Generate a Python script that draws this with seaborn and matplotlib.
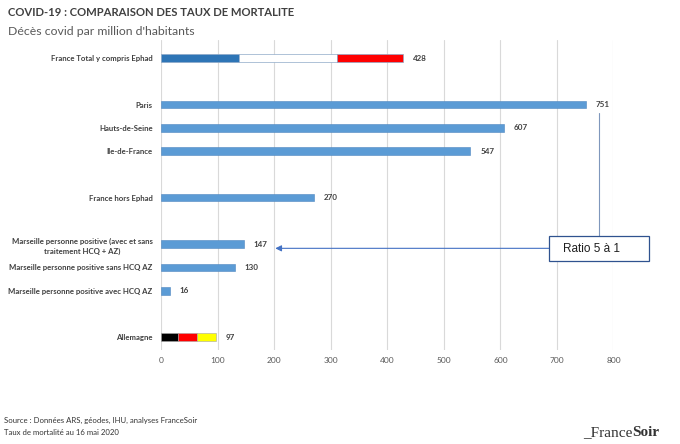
import matplotlib
matplotlib.use("Agg")
import matplotlib.pyplot as plt
from matplotlib.patches import Rectangle
import seaborn as sns
import pandas as pd

# rows, top to bottom (blank rows are spacing in the original chart)
row_labels = [
    "France Total y compris Ephad", "", "Paris", "Hauts-de-Seine", "Ile-de-France", "",
    "France hors Ephad", "", "Marseille personne positive (avec et sans\ntraitement HCQ + AZ)",
    "Marseille personne positive sans HCQ AZ", "Marseille personne positive avec HCQ AZ", "",
    "Allemagne",
]
row_pos = list(range(len(row_labels)))

# plain blue bars
blue_names = ["Paris", "Hauts-de-Seine", "Ile-de-France", "France hors Ephad",
              "Marseille personne positive (avec et sans\ntraitement HCQ + AZ)",
              "Marseille personne positive sans HCQ AZ",
              "Marseille personne positive avec HCQ AZ"]
blue_values = [751, 607, 547, 270, 147, 130, 16]

# flag-coloured bars, segments as cumulative ends
france_total = 428
france_segments = [137, 311, 428]
france_colors = ["#2E75B6", "#FFFFFF", "#FF0000"]
germany_total = 97
germany_segments = [30, 64, 97]
germany_colors = ["#000000", "#FF0000", "#FFFF00"]

x_ticks = [0, 100, 200, 300, 400, 500, 600, 700, 800]

txt = "#404040"
bar_h = 0.33

sns.set_style("white")
plt.rcParams["font.family"] = ["Lato", "DejaVu Sans"]

fig = plt.figure(figsize=(6.8, 4.44), dpi=100)
ax = fig.add_axes([0.2368, 0.2117, 0.6654, 0.698])

df = pd.DataFrame({
    "pos": [row_pos[row_labels.index(n)] for n in blue_names],
    "value": blue_values,
})
sns.barplot(data=df, x="value", y="pos", orient="h", native_scale=True,
            color="#5B9BD5", saturation=1, width=bar_h, ax=ax,
            edgecolor="#5087C0", linewidth=0.4)

# stacked flag bars
prev = 0
for end, c in zip(france_segments, france_colors):
    ax.barh(row_pos[0], end - prev, left=prev, height=bar_h, color=c,
            edgecolor="#8EA9C8", linewidth=0.5, zorder=3)
    prev = end
prev = 0
for end, c in zip(germany_segments, germany_colors):
    ax.barh(row_pos[12], end - prev, left=prev, height=bar_h, color=c,
            edgecolor="#A5A5A5", linewidth=0.4, zorder=3)
    prev = end

# value labels
labels_vals = [(row_pos[0], france_total)] + list(zip(df["pos"], df["value"])) + \
    [(row_pos[12], germany_total)]
for p, v in labels_vals:
    ax.annotate(str(v), (v, p), xytext=(7, 0), textcoords="offset points",
                va="center", ha="left", fontsize=5.8, fontweight="bold", color=txt)

ax.set_xlim(0, 800)
ax.set_ylim(12.55, -0.77)
ax.set_xticks(x_ticks)
ax.set_xticklabels([str(t) for t in x_ticks], fontsize=6, color="#595959")
ax.set_yticks(row_pos)
ax.set_yticklabels(row_labels, fontsize=5.6, fontweight="bold", color=txt)
for t in ax.get_yticklabels():
    t.set_multialignment("center")
    t.set_linespacing(1.55)
ax.tick_params(axis="y", length=0, pad=6)
ax.tick_params(axis="x", length=0, pad=5)
ax.set_xlabel("")
ax.set_ylabel("")
for s in ax.spines.values():
    s.set_visible(False)
ax.xaxis.grid(True, color="#D9D9D9", linewidth=0.8)
ax.set_axisbelow(True)

# "Ratio 5 a 1" callout
ax.annotate("", xy=(202, 8.18), xytext=(686, 8.18),
            arrowprops=dict(arrowstyle="-|>", color="#4472C4", lw=0.8,
                            mutation_scale=9, shrinkA=0, shrinkB=0))
ax.plot([775, 775], [2.36, 7.64], color="#7F97BC", lw=0.8, zorder=4)
ax.add_patch(Rectangle((686, 7.64), 177, 1.07, fc="white", ec="#2F528F", lw=0.9,
                       clip_on=False, zorder=5))
ax.text(710, 8.22, "Ratio 5 à 1", fontsize=8.5, color="#1F1F1F", va="center", ha="left",
        family=["Liberation Sans", "DejaVu Sans"], zorder=6)

# titles
fig.text(0.012, 0.985, "COVID-19 : COMPARAISON DES TAUX DE MORTALITE", fontsize=8.1,
         fontweight="bold", color=txt, va="top")
fig.text(0.012, 0.942, "Décès covid par million d'habitants", fontsize=8.8,
         color="#595959", va="top")

# footer
fig.text(0.006, 0.053, "Source : Données ARS, géodes, IHU, analyses FranceSoir",
         fontsize=5.6, color="#333333", va="center")
fig.text(0.006, 0.027, "Taux de mortalité au 16 mai 2020",
         fontsize=5.6, color="#333333", va="center")
logo1 = fig.text(0.857, 0.018, "_France", fontsize=11, color="#333333", va="baseline",
                 family=["Liberation Serif", "DejaVu Serif"])
fig.canvas.draw()
bb = logo1.get_window_extent()
fig.text(bb.x1 / fig.bbox.width, 0.018, "Soir", fontsize=11, color="#333333",
         fontweight="bold", va="baseline", family=["Liberation Serif", "DejaVu Serif"])

fig.savefig("out.png", dpi=100)
